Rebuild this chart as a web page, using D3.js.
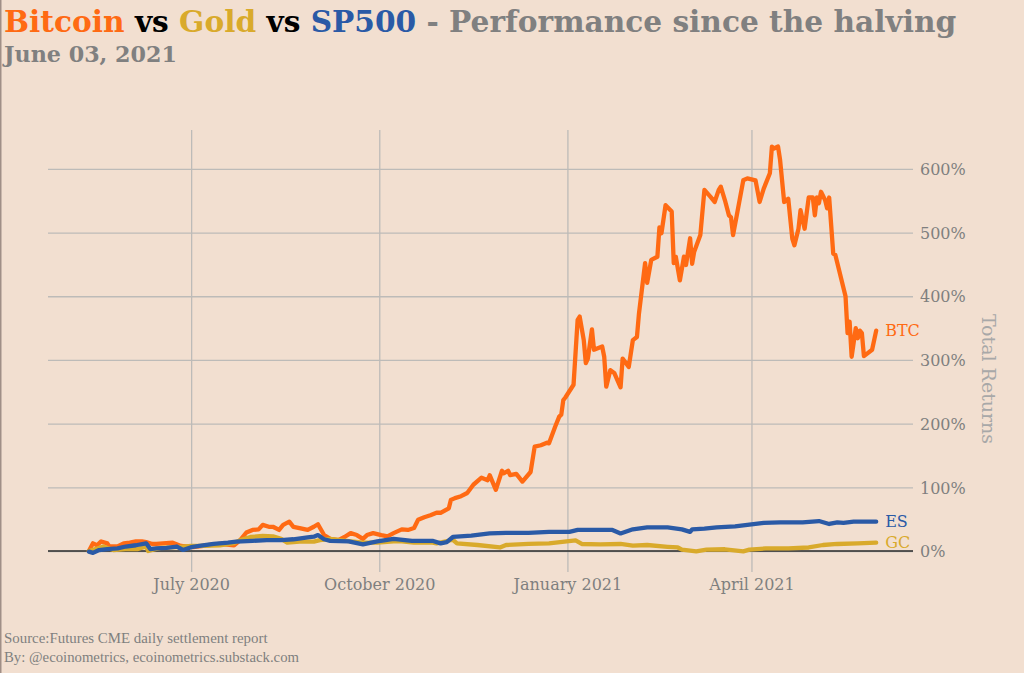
<!DOCTYPE html>
<html><head><meta charset="utf-8">
<script src="https://cdn.jsdelivr.net/npm/d3@7"></script>
<style>html,body{margin:0;padding:0;background:#f2dfd0;} svg{display:block}</style>
</head><body><svg id="c" width="1024" height="673"></svg>
<script>
// ---- data (total returns since the halving, %) ----
const btcDates = ["2020-05-12","2020-05-14","2020-05-16","2020-05-18","2020-05-21","2020-05-22","2020-05-26","2020-05-29","2020-06-01","2020-06-04","2020-06-07","2020-06-09","2020-06-12","2020-06-14","2020-06-22","2020-06-26","2020-07-02","2020-07-09","2020-07-15","2020-07-22","2020-07-25","2020-07-28","2020-07-31","2020-08-03","2020-08-05","2020-08-08","2020-08-10","2020-08-13","2020-08-15","2020-08-18","2020-08-20","2020-08-23","2020-08-27","2020-08-30","2020-09-01","2020-09-04","2020-09-07","2020-09-11","2020-09-14","2020-09-17","2020-09-20","2020-09-23","2020-09-25","2020-09-28","2020-10-02","2020-10-05","2020-10-08","2020-10-12","2020-10-15","2020-10-18","2020-10-20","2020-10-23","2020-10-26","2020-10-29","2020-10-31","2020-11-04","2020-11-05","2020-11-07","2020-11-10","2020-11-13","2020-11-16","2020-11-20","2020-11-23","2020-11-24","2020-11-27","2020-11-30","2020-12-01","2020-12-03","2020-12-04","2020-12-07","2020-12-10","2020-12-14","2020-12-16","2020-12-19","2020-12-22","2020-12-23","2020-12-26","2020-12-28","2020-12-29","2020-12-30","2020-12-31","2021-01-04","2021-01-06","2021-01-07","2021-01-09","2021-01-10","2021-01-11","2021-01-13","2021-01-14","2021-01-18","2021-01-19","2021-01-20","2021-01-22","2021-01-24","2021-01-27","2021-01-28","2021-01-31","2021-02-02","2021-02-04","2021-02-05","2021-02-08","2021-02-09","2021-02-11","2021-02-14","2021-02-15","2021-02-16","2021-02-18","2021-02-21","2021-02-22","2021-02-23","2021-02-25","2021-02-27","2021-02-28","2021-03-02","2021-03-03","2021-03-04","2021-03-07","2021-03-09","2021-03-12","2021-03-14","2021-03-16","2021-03-17","2021-03-19","2021-03-21","2021-03-22","2021-03-23","2021-03-25","2021-03-28","2021-03-30","2021-04-03","2021-04-05","2021-04-07","2021-04-10","2021-04-11","2021-04-12","2021-04-14","2021-04-15","2021-04-17","2021-04-19","2021-04-21","2021-04-22","2021-04-24","2021-04-25","2021-04-27","2021-04-29","2021-05-01","2021-05-02","2021-05-03","2021-05-04","2021-05-05","2021-05-07","2021-05-08","2021-05-09","2021-05-11","2021-05-12","2021-05-17","2021-05-18","2021-05-19","2021-05-20","2021-05-22","2021-05-23","2021-05-24","2021-05-25","2021-05-26","2021-05-30","2021-06-01"];
const btcValues = [0,12,9,15,12,7,7,12,13,15,15,14,11,11,13,8,6,9,11,9,17,29,33,34,41,38,38,33,41,46,38,36,33,38,42,25,19,17,22,28,25,19,25,28,25,23,28,34,33,36,49,53,56,60,60,67,80,83,86,91,104,115,111,119,96,126,122,126,119,121,109,124,164,166,170,169,195,211,214,237,241,261,363,368,331,295,302,348,316,321,305,258,284,279,257,302,289,331,336,373,452,421,457,462,508,499,543,533,452,462,425,462,449,491,451,470,496,567,556,548,567,572,551,527,524,496,530,582,585,582,548,569,593,635,632,635,614,548,553,490,480,506,535,506,555,555,527,555,546,564,551,538,555,467,465,400,342,360,305,350,334,346,342,306,316,346];

const esDates = ["2020-05-12","2020-05-14","2020-05-17","2020-05-21","2020-05-26","2020-05-30","2020-06-04","2020-06-09","2020-06-11","2020-06-14","2020-06-19","2020-06-24","2020-06-27","2020-07-01","2020-07-05","2020-07-12","2020-07-19","2020-07-23","2020-07-31","2020-08-07","2020-08-14","2020-08-20","2020-08-27","2020-08-30","2020-09-01","2020-09-04","2020-09-07","2020-09-16","2020-09-23","2020-09-30","2020-10-08","2020-10-17","2020-10-27","2020-10-31","2020-11-03","2020-11-06","2020-11-15","2020-11-24","2020-12-02","2020-12-13","2020-12-23","2021-01-02","2021-01-06","2021-01-14","2021-01-23","2021-01-27","2021-02-02","2021-02-09","2021-02-19","2021-02-26","2021-03-02","2021-03-03","2021-03-09","2021-03-15","2021-03-24","2021-03-30","2021-04-07","2021-04-15","2021-04-26","2021-05-04","2021-05-09","2021-05-13","2021-05-16","2021-05-21","2021-06-01"];
const esValues = [-1,-3,1.5,3,4,7,9,12,3,4,5,7,1.6,6,8,11,13,14.6,16,17,17,18.4,21.5,22.4,25,18.4,16,15,10.5,15,19,16,16,12,14,22,24,27.5,28.5,28.5,30,30,33,33,33,27.5,34,37,37,34,30,34,35,37,38.6,41,44,45,45,47,42.4,45,44,46,46];

const gcDates = ["2020-05-12","2020-05-16","2020-05-19","2020-05-24","2020-05-30","2020-06-05","2020-06-09","2020-06-10","2020-06-16","2020-06-24","2020-07-01","2020-07-07","2020-07-15","2020-07-22","2020-07-25","2020-07-30","2020-08-05","2020-08-10","2020-08-14","2020-08-17","2020-08-23","2020-08-30","2020-09-02","2020-09-07","2020-09-15","2020-09-23","2020-09-30","2020-10-08","2020-10-12","2020-10-18","2020-10-27","2020-10-29","2020-11-06","2020-11-08","2020-11-18","2020-11-29","2020-12-02","2020-12-13","2020-12-23","2021-01-05","2021-01-08","2021-01-17","2021-01-27","2021-02-02","2021-02-09","2021-02-19","2021-02-24","2021-02-26","2021-03-05","2021-03-10","2021-03-19","2021-03-28","2021-03-31","2021-04-08","2021-04-19","2021-04-29","2021-05-06","2021-05-13","2021-05-23","2021-06-01"];
const gcValues = [0,4,7,1.5,3,3,7,0,5,6,8,8,9,12.5,17,22,23.5,23,19,13,14.6,14.6,17,19,16,13,13,15,15,13,13,12,17.6,12,9.4,5.5,9.4,11,12,16.5,11,10.5,11,8.3,9.4,6.6,5.5,2.2,-0.6,2,2.7,-0.6,2.2,4,4,5.5,9.4,11,12,13];

const yTicks = [0,100,200,300,400,500,600];
const xTickDates = ["2020-07-01","2020-10-01","2021-01-01","2021-04-01"];
const xTickLabels = ["July 2020","October 2020","January 2021","April 2021"];
const seriesNames = ["BTC","GC","ES"];
const seriesColors = ["#ff6a13","#d9aa2b","#2a5aa6"];

// ---- layout ----
const parse = d3.timeParse("%Y-%m-%d");
const L = 48, R = 913, T = 130, B = 572;
const FONT = "'DejaVu Serif', 'Liberation Serif', serif";
const FONT2 = "'Liberation Serif', 'DejaVu Serif', serif";
const svg = d3.select("#c").style("font-family", FONT);
svg.append("rect").attr("width",1024).attr("height",673).attr("fill","#f2dfd0");
svg.append("line").attr("x1",0.75).attr("x2",0.75).attr("y1",0).attr("y2",673).attr("stroke","#a08f87").attr("stroke-width",1.5);

const x = d3.scaleTime().domain([parse("2020-04-22"), parse("2021-06-19")]).range([L, R]);
const y = d3.scaleLinear().domain([-33, 661]).range([B, T]);

// grid + y axis on right
const yAx = svg.append("g").attr("transform",`translate(${R},0)`)
  .call(d3.axisRight(y).tickValues(yTicks).tickSize(-(R-L)).tickPadding(7).tickFormat(d => d + "%"));
yAx.select(".domain").remove();
yAx.selectAll("line").attr("stroke","#bdbbb8").attr("stroke-width",1.3);
yAx.selectAll("text").attr("fill","#7f7f7f").attr("font-size",16).attr("font-family",FONT).attr("dy","0.36em");

const xAx = svg.append("g").attr("transform",`translate(0,${B})`)
  .call(d3.axisBottom(x).tickValues(xTickDates.map(parse)).tickSize(-(B-T)).tickPadding(7)
    .tickFormat((d,i) => xTickLabels[i]));
xAx.select(".domain").remove();
xAx.selectAll("line").attr("stroke","#bdbbb8").attr("stroke-width",1.3);
xAx.selectAll("text").attr("fill","#7f7f7f").attr("font-size",16).attr("font-family",FONT);

// zero line
svg.append("line").attr("x1",L).attr("x2",R).attr("y1",y(0)).attr("y2",y(0)).attr("stroke","#2b2b2b").attr("stroke-width",1.3);

const series = [
  {dates: btcDates, values: btcValues},
  {dates: gcDates, values: gcValues},
  {dates: esDates, values: esValues}
];
const line = d3.line().x(d => x(d[0])).y(d => y(d[1]));
series.forEach((s, i) => {
  const pts = s.dates.map((d, j) => [parse(d), s.values[j]]);
  svg.append("path").attr("d", line(pts)).attr("fill","none").attr("stroke", seriesColors[i])
    .attr("stroke-width",4.3).attr("stroke-linejoin","round").attr("stroke-linecap","round");
  const last = pts[pts.length-1];
  svg.append("text").attr("x", x(last[0]) + 9).attr("y", y(last[1])).attr("dy","0.35em")
    .attr("fill", seriesColors[i]).attr("font-size",16).text(seriesNames[i]);
});

// axis title
svg.append("text").attr("transform","translate(982,379) rotate(90)").attr("text-anchor","middle")
  .attr("fill","#a8a8a8").attr("font-size",19).text("Total Returns");

function fit(sel, w){ const cw = sel.node().getComputedTextLength(); const fs = parseFloat(sel.attr("font-size")); sel.attr("font-size", fs * w / cw); }

// title
const title = svg.append("text").attr("x",4).attr("y",32).attr("font-size",30).attr("font-weight","bold");
[["Bitcoin","#ff6a13"],[" vs ","#000000"],["Gold","#d9aa2b"],[" vs ","#000000"],["SP500","#2a5aa6"],[" - Performance since the halving","#808080"]]
  .forEach(p => title.append("tspan").attr("fill",p[1]).text(p[0]));
fit(title, 953);
const sub = svg.append("text").attr("x",4).attr("y",62).attr("font-size",20).attr("font-weight","bold").attr("fill","#808080").text("June 03, 2021");
fit(sub, 173);
const s1 = svg.append("text").attr("x",4).attr("y",643).attr("font-size",12).attr("font-family",FONT2).attr("fill","#7f7f7f").text("Source:Futures CME daily settlement report");
fit(s1, 264);
const s2 = svg.append("text").attr("x",4).attr("y",662).attr("font-size",12).attr("font-family",FONT2).attr("fill","#7f7f7f").text("By: @ecoinometrics, ecoinometrics.substack.com");
fit(s2, 295);
</script></body></html>
